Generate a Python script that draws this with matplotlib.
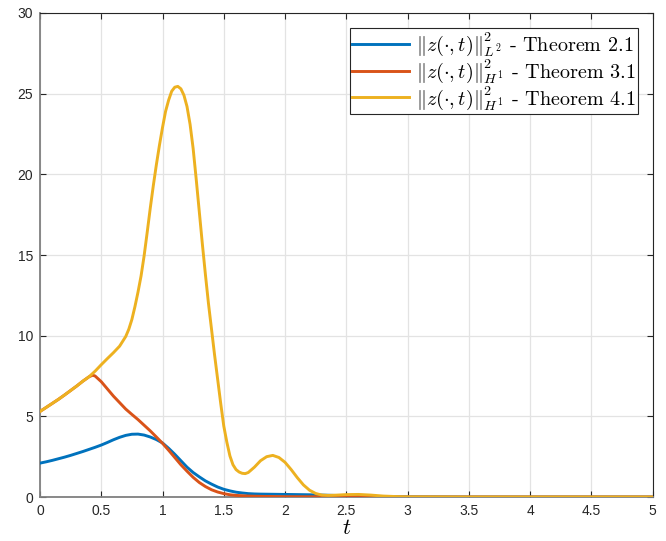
import matplotlib
matplotlib.use("Agg")
import matplotlib.pyplot as plt

# ---- data ----
t_blue = [0.00, 0.05, 0.10, 0.15, 0.20, 0.25, 0.30, 0.35, 0.40, 0.45, 0.50, 0.55, 0.60, 0.65,
          0.70, 0.75, 0.80, 0.85, 0.90, 0.95, 1.00, 1.05, 1.10, 1.15, 1.20, 1.25, 1.30, 1.35,
          1.40, 1.45, 1.50, 1.55, 1.60, 1.65, 1.70, 1.75, 1.80, 1.90, 2.00, 2.20, 2.40, 2.60,
          2.80, 3.00, 3.50, 4.00, 4.50, 5.00]
l2_thm21 = [2.10, 2.18, 2.27, 2.37, 2.47, 2.58, 2.70, 2.82, 2.95, 3.08, 3.22, 3.38, 3.55, 3.70,
            3.82, 3.89, 3.90, 3.84, 3.72, 3.56, 3.35, 3.02, 2.65, 2.25, 1.85, 1.52, 1.25, 1.00,
            0.80, 0.62, 0.48, 0.38, 0.30, 0.25, 0.21, 0.19, 0.18, 0.17, 0.16, 0.14, 0.10, 0.05,
            0.02, 0.01, 0.00, 0.00, 0.00, 0.00]

t_red = [0.00, 0.05, 0.10, 0.15, 0.20, 0.25, 0.30, 0.35, 0.40, 0.43, 0.45, 0.50, 0.55, 0.60,
         0.65, 0.70, 0.75, 0.80, 0.85, 0.90, 0.95, 1.00, 1.05, 1.10, 1.15, 1.20, 1.25, 1.30,
         1.35, 1.40, 1.45, 1.50, 1.55, 1.60, 1.70, 1.80, 2.00, 2.50, 3.00, 3.50, 4.00, 4.50, 5.00]
h1_thm31 = [5.30, 5.55, 5.80, 6.05, 6.32, 6.60, 6.88, 7.18, 7.45, 7.55, 7.50, 7.15, 6.70, 6.25,
            5.85, 5.45, 5.12, 4.80, 4.45, 4.10, 3.72, 3.33, 2.90, 2.45, 2.00, 1.60, 1.22, 0.90,
            0.65, 0.45, 0.31, 0.21, 0.14, 0.10, 0.06, 0.04, 0.02, 0.01, 0.00, 0.00, 0.00, 0.00, 0.00]

t_yel = [0.00, 0.05, 0.10, 0.15, 0.20, 0.25, 0.30, 0.35, 0.40, 0.45, 0.50, 0.55, 0.60, 0.65,
         0.70, 0.725, 0.75, 0.775, 0.80, 0.825, 0.85, 0.875, 0.90, 0.925, 0.95, 0.975, 1.00,
         1.025, 1.05, 1.075, 1.10, 1.125, 1.15, 1.175, 1.20, 1.225, 1.25, 1.275, 1.30, 1.325,
         1.35, 1.375, 1.40, 1.425, 1.45, 1.475, 1.50, 1.525, 1.55, 1.575, 1.60, 1.625, 1.65,
         1.675, 1.70, 1.75, 1.80, 1.85, 1.90, 1.95, 2.00, 2.05, 2.10, 2.15, 2.20, 2.25, 2.30,
         2.35, 2.40, 2.50, 2.60, 2.70, 2.80, 2.90, 3.00, 3.50, 4.00, 4.50, 5.00]
h1_thm41 = [5.30, 5.55, 5.80, 6.05, 6.32, 6.60, 6.88, 7.18, 7.45, 7.80, 8.20, 8.58, 8.95, 9.35,
            9.95, 10.4, 11.0, 11.8, 12.7, 13.7, 14.95, 16.4, 17.9, 19.3, 20.6, 21.8, 22.9,
            23.9, 24.6, 25.15, 25.4, 25.45, 25.3, 24.9, 24.2, 23.1, 21.6, 19.7, 17.7, 15.7,
            13.8, 12.0, 10.4, 8.8, 7.3, 5.8, 4.4, 3.4, 2.55, 2.0, 1.70, 1.55, 1.47,
            1.45, 1.52, 1.85, 2.25, 2.50, 2.58, 2.45, 2.15, 1.70, 1.20, 0.75, 0.42, 0.22, 0.12,
            0.10, 0.11, 0.15, 0.16, 0.12, 0.06, 0.03, 0.01, 0.00, 0.00, 0.00, 0.00]

labels = [r"$\|z(\cdot,t)\|^2_{L^2}$ - Theorem 2.1",
          r"$\|z(\cdot,t)\|^2_{H^1}$ - Theorem 3.1",
          r"$\|z(\cdot,t)\|^2_{H^1}$ - Theorem 4.1"]
colors = ["#0072BD", "#D95319", "#EDB120"]
xticks = [0, 0.5, 1, 1.5, 2, 2.5, 3, 3.5, 4, 4.5, 5]
xticklabels = ["0", "0.5", "1", "1.5", "2", "2.5", "3", "3.5", "4", "4.5", "5"]
yticks = [0, 5, 10, 15, 20, 25, 30]

plt.rcParams["mathtext.fontset"] = "cm"
plt.rcParams["font.family"] = ["Liberation Sans", "DejaVu Sans"]

fig = plt.figure(figsize=(6.66, 5.41), dpi=100)
ax = fig.add_axes([0.060, 0.0813, 0.920, 0.8947])

series = [(t_blue, l2_thm21), (t_red, h1_thm31), (t_yel, h1_thm41)]
for (tt, vv), c, lab in zip(series, colors, labels):
    ax.plot(tt, vv, color=c, lw=2.1, label=lab, solid_joinstyle="round", zorder=3)

ax.set_xlim(0, 5)
ax.set_ylim(0, 30)
ax.set_xticks(xticks)
ax.set_xticklabels(xticklabels)
ax.set_yticks(yticks)
ax.grid(True, color="#e3e3e3", lw=0.9)
ax.set_axisbelow(True)
ax.tick_params(direction="in", length=4, width=0.8, colors="#262626", labelsize=10,
               top=True, right=True, pad=5)
for s in ["left", "bottom"]:
    ax.spines[s].set_color("#808080")
    ax.spines[s].set_linewidth(1.3)
for s in ["top", "right"]:
    ax.spines[s].set_color("#262626")
    ax.spines[s].set_linewidth(0.8)

ax.set_xlabel(r"$t$", fontsize=16, labelpad=0)

leg = ax.legend(loc="upper right", bbox_to_anchor=(0.976, 0.969), prop={"family": "cmr10", "size": 14.5},
                frameon=True, fancybox=False, edgecolor="#262626", framealpha=1,
                handlelength=2.8, handletextpad=0.35, borderpad=0.12, labelspacing=-0.05,
                borderaxespad=0)
leg.get_frame().set_linewidth(0.8)

fig.savefig("out.png", dpi=100)
